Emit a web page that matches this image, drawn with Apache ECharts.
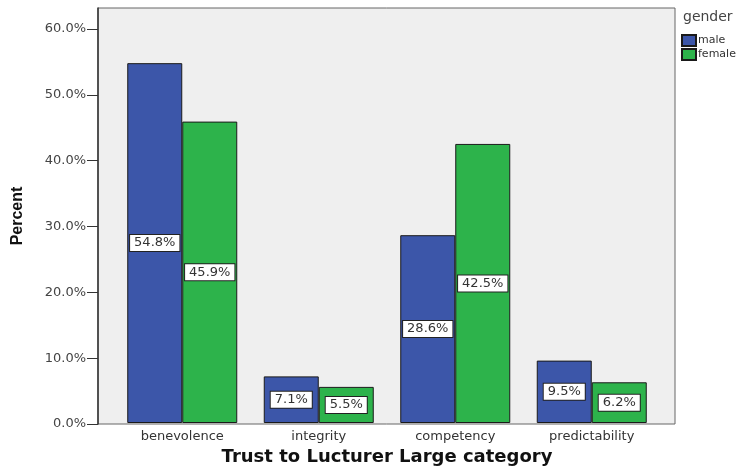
<!DOCTYPE html>
<html>
<head>
<meta charset="utf-8">
<script src="https://cdn.jsdelivr.net/npm/echarts@6/dist/echarts.min.js"></script>
<style>
  html, body { margin: 0; padding: 0; background: #fff; }
  #chart { width: 745px; height: 471px; }
</style>
</head>
<body>
<div id="chart"></div>
<script>
    var categories = ['benevolence', 'integrity', 'competency', 'predictability'];
    var maleValues = [54.8, 7.1, 28.6, 9.5];
    var femaleValues = [45.9, 5.5, 42.5, 6.2];
    var yTicks = [0, 10, 20, 30, 40, 50, 60];

    var font = 'DejaVu Sans';
    var yMax = 63.2;

    let labelStyle = {
        show: true
        , position: 'inside'
        , formatter: function (p) { return p.value.toFixed(1) + '%'; }
        , fontFamily: font
        , fontSize: 13
        , color: '#333'
        , backgroundColor: '#fff'
        , borderColor: '#222'
        , borderWidth: 1
        , padding: [2, 4, 1, 4]
        , lineHeight: 13
    };

    let options = {
        animation: false,
        title: {
            text: 'gender',
            left: 683,
            top: 10,
            padding: 0,
            textStyle: { fontFamily: font, fontSize: 14, fontWeight: 'normal', color: '#444' }
        },
        legend: {
            orient: 'vertical',
            left: 681,
            top: 34,
            padding: 0,
            icon: 'rect',
            itemWidth: 14,
            itemHeight: 11,
            itemGap: 1,
            data: ['male', 'female'],
            textStyle: { fontFamily: font, fontSize: 11, color: '#333', padding: [0, 0, 0, -3] }
        },
        grid: [
            // frame + y axis
            { left: 98, right: 70, top: 8, bottom: 47, show: true, backgroundColor: '#efefef', borderColor: '#666', borderWidth: 1 },
            // bars
            { left: 114, right: 85, top: 8, bottom: 47 }
        ],
        xAxis: [{
            gridIndex: 0,
            type: 'category',
            data: categories,
            show: false
        }, {
            gridIndex: 1,
            type: 'category',
            data: categories,
            name: 'Trust to Lucturer Large category',
            nameLocation: 'middle',
            nameGap: 25,
            nameTextStyle: { fontFamily: font, fontSize: 18, fontWeight: 'bold', color: '#111' },
            axisLine: { show: false },
            axisTick: { alignWithLabel: true, length: 8, lineStyle: { color: '#222' } },
            axisLabel: { fontFamily: font, fontSize: 13, color: '#333', margin: 7 },
            splitLine: { show: false }
        }],
        yAxis: [{
            gridIndex: 0,
            type: 'value',
            min: 0,
            max: yMax,
            name: 'Percent',
            nameLocation: 'middle',
            nameGap: 72,
            nameTextStyle: { fontFamily: 'Liberation Sans Narrow, Liberation Sans', fontSize: 16, fontWeight: 'bold', color: '#111' },
            axisLine: { show: true, lineStyle: { color: '#333', width: 1.5 } },
            axisTick: { show: true, length: 11, customValues: yTicks, lineStyle: { color: '#333' } },
            axisLabel: {
                customValues: yTicks
                , formatter: function (v) { return v.toFixed(1) + '%'; }
                , fontFamily: font
                , fontSize: 13
                , color: '#444'
                , margin: 12
            },
            splitLine: { show: false }
        }, {
            gridIndex: 1,
            type: 'value',
            min: 0,
            max: yMax,
            show: false,
            splitLine: { show: false }
        }],
        series: [{
            name: 'male',
            type: 'bar',
            xAxisIndex: 1,
            yAxisIndex: 1,
            barWidth: 55,
            barGap: '0%',
            data: maleValues,
            itemStyle: { color: '#3c56a9', borderColor: '#1a1a1a', borderWidth: 1 },
            label: labelStyle
        }, {
            name: 'female',
            type: 'bar',
            xAxisIndex: 1,
            yAxisIndex: 1,
            barWidth: 55,
            barGap: '0%',
            data: femaleValues,
            itemStyle: { color: '#2db34b', borderColor: '#1a1a1a', borderWidth: 1 },
            label: labelStyle
        }]
    };

    let chart = echarts.init(document.getElementById('chart'));
    chart.setOption(options);
    window.onresize = chart.resize;
</script>
</body>
</html>
